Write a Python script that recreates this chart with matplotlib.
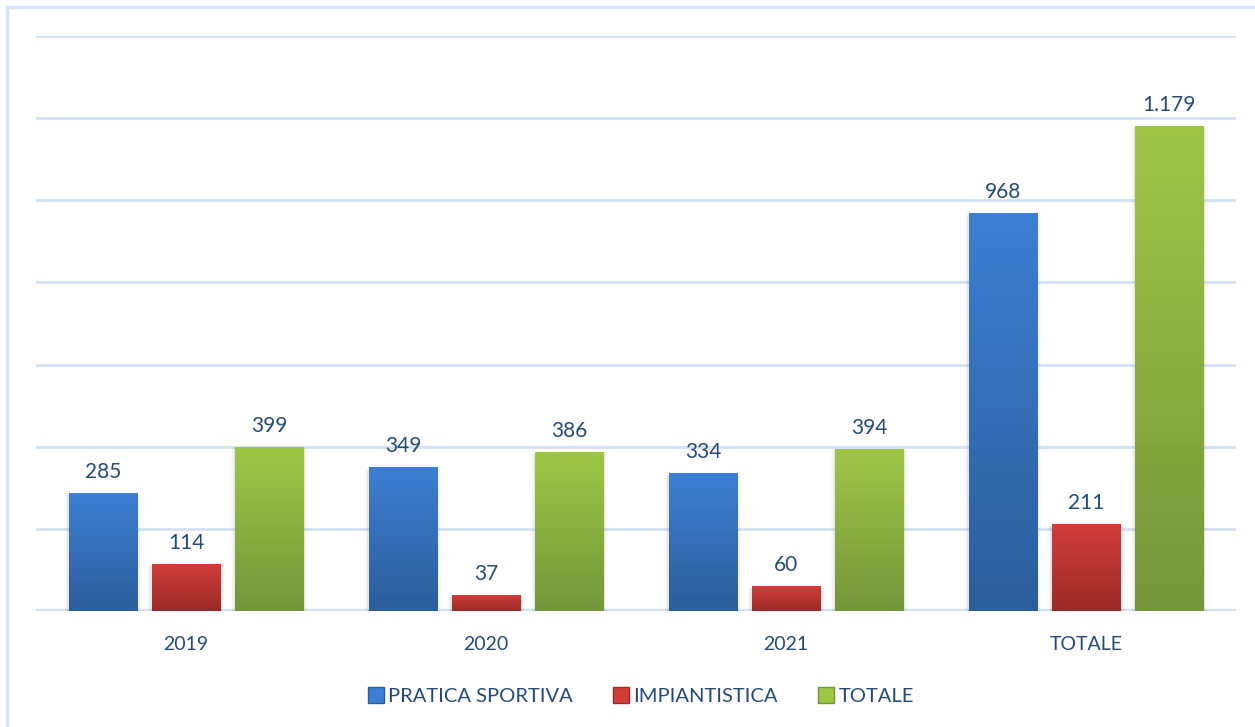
import numpy as np
import matplotlib.pyplot as plt
from matplotlib.colors import LinearSegmentedColormap
from matplotlib.patches import Rectangle
from matplotlib.lines import Line2D

plt.rcParams["font.family"] = ["Lato", "DejaVu Sans"]

categories = ["2019", "2020", "2021", "TOTALE"]
series = ["PRATICA SPORTIVA", "IMPIANTISTICA", "TOTALE"]
pratica = [285, 349, 334, 968]
impiantistica = [114, 37, 60, 211]
totale = [399, 386, 394, 1179]
labels = [["285", "349", "334", "968"],
          ["114", "37", "60", "211"],
          ["399", "386", "394", "1.179"]]

# top colour, bottom colour for each series
grads = [("#3d7fd3", "#2c5d9b"), ("#d23d3a", "#9a2a28"), ("#9fc746", "#74963a")]
text_col = "#264a78"
grid_col = "#d5e1f2"

fig = plt.figure(figsize=(12.55, 7.27), dpi=100)
ax = fig.add_axes([36 / 1255, 1 - 611 / 727, 1200 / 1255, 575 / 727])

x = np.arange(len(categories))
offset = 0.277
width = 0.227
grad = np.linspace(1, 0, 256).reshape(-1, 1)

for i, vals in enumerate([pratica, impiantistica, totale]):
    cmap = LinearSegmentedColormap.from_list("g%d" % i, [grads[i][1], grads[i][0]])
    for j, v in enumerate(vals):
        xc = x[j] + (i - 1) * offset
        # soft shadow on the sides
        for k, a in enumerate([0.05, 0.03, 0.015]):
            d = 0.005 * (k + 1)
            ax.add_patch(Rectangle((xc - width / 2 - d, -3), width + 2 * d, v,
                                   facecolor="black", alpha=a, edgecolor="none", zorder=2))
        ax.imshow(grad, cmap=cmap, aspect="auto", zorder=3,
                  extent=(xc - width / 2, xc + width / 2, 0, v), interpolation="bicubic")
        ax.text(xc, v + 28, labels[i][j], ha="center", va="bottom",
                fontsize=15, color=text_col, zorder=4)

ax.set_xlim(-0.5, 3.5)
ax.set_ylim(0, 1400)
ax.set_yticks(np.arange(0, 1401, 200))
ax.yaxis.grid(True, color=grid_col, linewidth=2)
ax.set_axisbelow(True)
ax.tick_params(axis="y", left=False, labelleft=False)
ax.set_xticks(x)
ax.set_xticklabels(categories, fontsize=14, color=text_col)
ax.tick_params(axis="x", length=0, pad=18)
for s in ax.spines.values():
    s.set_visible(False)
ax.axhline(0, color=grid_col, linewidth=3, zorder=1)

handles = [Line2D([], [], marker="s", linestyle="none", markersize=11,
                  markerfacecolor=c[0], markeredgecolor=c[1]) for c in grads]
fig.legend(handles, series, loc="center", bbox_to_anchor=(640 / 1255, 1 - 696 / 727),
           ncol=3, frameon=False, fontsize=14.5, labelcolor=text_col,
           handletextpad=0.1, columnspacing=1.9, handlelength=1)

# outer chart frame (only left and top edges visible)
fig.add_artist(Line2D([7 / 1255, 7 / 1255], [0, 1 - 7 / 727], color="#d8e4f4", linewidth=2.5))
fig.add_artist(Line2D([7 / 1255, 1], [1 - 7 / 727, 1 - 7 / 727], color="#d8e4f4", linewidth=2.5))

fig.savefig("out.png", dpi=100)
